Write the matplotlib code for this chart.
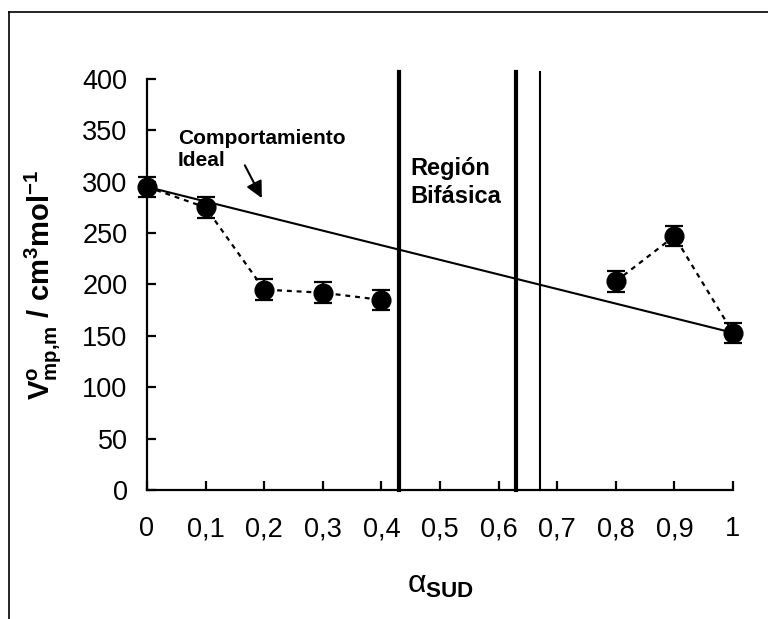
import matplotlib
matplotlib.use("Agg")
import matplotlib.pyplot as plt
from matplotlib.lines import Line2D
from matplotlib.ticker import FuncFormatter, MultipleLocator

plt.rcParams['font.family'] = ['Liberation Sans', 'DejaVu Sans']
plt.rcParams['mathtext.fontset'] = 'custom'
plt.rcParams['mathtext.rm'] = 'Liberation Sans'
plt.rcParams['mathtext.it'] = 'Liberation Sans'
plt.rcParams['mathtext.bf'] = 'Liberation Sans:bold'

# Measured partial molar volumes
alpha_low = [0.0, 0.1, 0.2, 0.3, 0.4]
vol_low = [295, 275, 195, 192, 185]
alpha_high = [0.8, 0.9, 1.0]
vol_high = [203, 247, 153]
vol_err = 10

# Ideal-mixing straight line
alpha_ideal = [0.0, 1.0]
vol_ideal = [295, 153]

# Boundaries of the two-phase region
boundaries_thick = [0.43, 0.63]
boundaries_thin = [0.67]
boundary_top = 407

fig = plt.figure(figsize=(7.68, 6.19), dpi=100)
ax = fig.add_axes([0.1914, 0.2084, 0.763, 0.664])

ax.plot(alpha_ideal, vol_ideal, color='black', lw=1.5, zorder=3)

for xs, ys in [(alpha_low, vol_low), (alpha_high, vol_high)]:
    ax.plot(xs, ys, color='black', lw=1.6, ls=(0, (2.2, 2.2)), zorder=3)
    ax.errorbar(xs, ys, yerr=vol_err, fmt='o', color='black', ms=13.5,
                capsize=6.3, capthick=1.6, elinewidth=1.6, zorder=4,
                clip_on=False)

for xb in boundaries_thick:
    ax.plot([xb, xb], [0, boundary_top], color='black', lw=3.0,
            clip_on=False, zorder=2)
for xb in boundaries_thin:
    ax.plot([xb, xb], [0, boundary_top], color='black', lw=1.5,
            clip_on=False, zorder=2)

ax.set_xlim(0, 1)
ax.set_ylim(0, 400)
ax.xaxis.set_major_locator(MultipleLocator(0.1))
ax.yaxis.set_major_locator(MultipleLocator(50))
ax.xaxis.set_major_formatter(FuncFormatter(
    lambda v, p: '0' if abs(v) < 1e-9 else ('1' if abs(v - 1) < 1e-9 else f'{v:.1f}'.replace('.', ','))))

for s in ['top', 'right']:
    ax.spines[s].set_visible(False)
for s in ['left', 'bottom']:
    ax.spines[s].set_linewidth(1.6)

ax.tick_params(axis='both', direction='in', length=6.5, width=1.6,
               labelsize=19.5)
ax.tick_params(axis='y', pad=14)
ax.tick_params(axis='x', pad=19)

ax.set_ylabel(r'V$^{\mathbf{o}}_{\mathbf{mp{,}m}}$ / cm$^{\mathbf{3}}$mol$^{\mathbf{-1}}$',
              fontsize=21, fontweight='bold', labelpad=13)
ax.set_xlabel(r'$\alpha_{\mathbf{SUD}}$', fontsize=23, labelpad=20)

ax.text(0.053, 351, 'Comportamiento\nIdeal', fontsize=15, fontweight='bold',
        va='top', ha='left', linespacing=1.2)
ax.annotate('', xy=(0.196, 284), xytext=(0.167, 316),
            arrowprops=dict(arrowstyle='-|>', color='black', lw=1.5,
                            mutation_scale=25, shrinkA=0, shrinkB=0))
ax.text(0.449, 324, 'Región\nBifásica', fontsize=17, fontweight='bold',
        va='top', ha='left', linespacing=1.25)

# Outer frame lines
fig.add_artist(Line2D([9 / 768, 1.0], [1 - 12 / 619, 1 - 12 / 619],
                      transform=fig.transFigure, color='black', lw=1.2))
fig.add_artist(Line2D([9 / 768, 9 / 768], [0.0, 1 - 12 / 619],
                      transform=fig.transFigure, color='black', lw=1.2))

fig.savefig('out.png', dpi=100)
